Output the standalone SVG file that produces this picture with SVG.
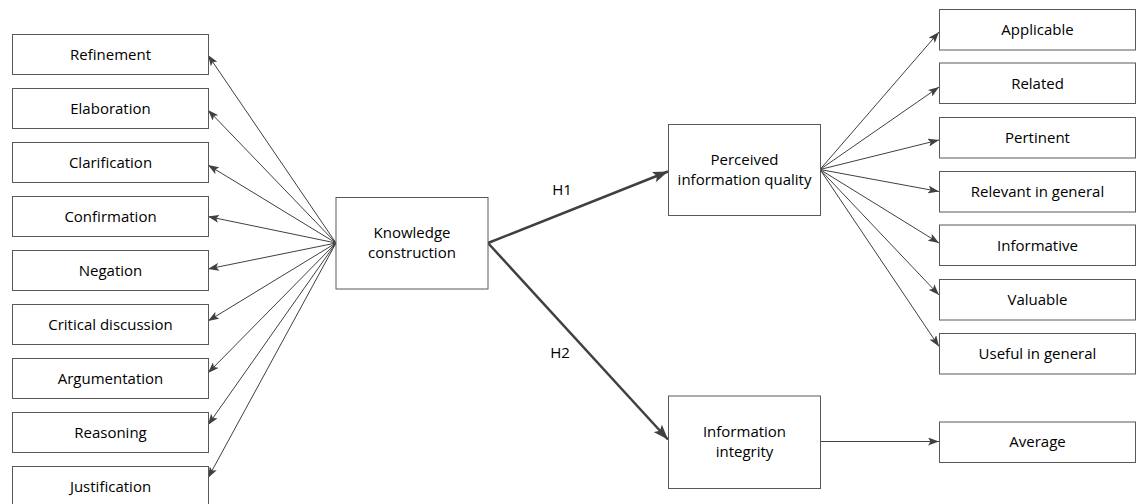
<svg xmlns="http://www.w3.org/2000/svg" width="1136" height="504" viewBox="0 0 1136 504">
  <style>
    .box { fill: #ffffff; stroke: #595959; stroke-width: 1; }
    .lbl { font-family: "Open Sans", "Liberation Sans", sans-serif; font-size: 15px; fill: #000000; text-anchor: middle; }
    .thin { stroke: #404040; stroke-width: 1; fill: none; marker-end: url(#arrowThin); }
    .thick { stroke: #404040; stroke-width: 2.5; fill: none; marker-end: url(#arrowThick); }
  </style>
  <defs>
    <marker id="arrowThin" viewBox="0 0 11 8" markerWidth="11" markerHeight="8" refX="11" refY="4" orient="auto" markerUnits="userSpaceOnUse">
      <path d="M0,0 L11,4 L0,8 L2.5,4 Z" fill="#404040"/>
    </marker>
    <marker id="arrowThick" viewBox="0 0 15 11" markerWidth="15" markerHeight="11" refX="15" refY="5.5" orient="auto" markerUnits="userSpaceOnUse">
      <path d="M0,0 L15,5.5 L0,11 L3,5.5 Z" fill="#404040"/>
    </marker>
  </defs>
  <rect width="1136" height="504" fill="#ffffff"/>

  <!-- connectors -->
  <g id="connectors">
    <!-- Knowledge construction to its indicators -->
    <line class="thin" x1="336" y1="243" x2="208" y2="55"/>
    <line class="thin" x1="336" y1="243" x2="208" y2="110"/>
    <line class="thin" x1="336" y1="243" x2="208" y2="165"/>
    <line class="thin" x1="336" y1="243" x2="208" y2="216.5"/>
    <line class="thin" x1="336" y1="243" x2="208" y2="269"/>
    <line class="thin" x1="336" y1="243" x2="208" y2="321"/>
    <line class="thin" x1="336" y1="243" x2="208" y2="373"/>
    <line class="thin" x1="336" y1="243" x2="208" y2="425"/>
    <line class="thin" x1="336" y1="243" x2="208" y2="478"/>
    <!-- hypotheses -->
    <line class="thick" x1="488" y1="243" x2="668" y2="171.5"/>
    <line class="thick" x1="488" y1="243" x2="668" y2="439.5"/>
    <!-- Perceived information quality to its indicators -->
    <line class="thin" x1="820" y1="169.5" x2="939" y2="32"/>
    <line class="thin" x1="820" y1="169.5" x2="939" y2="87"/>
    <line class="thin" x1="820" y1="169.5" x2="939" y2="140"/>
    <line class="thin" x1="820" y1="169.5" x2="939" y2="191.5"/>
    <line class="thin" x1="820" y1="169.5" x2="939" y2="243"/>
    <line class="thin" x1="820" y1="169.5" x2="939" y2="295"/>
    <line class="thin" x1="820" y1="169.5" x2="939" y2="346.5"/>
    <!-- Information integrity to Average -->
    <line class="thin" x1="820" y1="441.5" x2="939" y2="441.5"/>
    <text class="lbl" x="562" y="195">H1</text>
    <text class="lbl" x="560" y="358">H2</text>
  </g>

  <!-- left column -->
  <g id="refinement"><rect class="box" x="12.5" y="34.5" width="196" height="40"/><text class="lbl" x="110.5" y="59.5">Refinement</text></g>
  <g id="elaboration"><rect class="box" x="12.5" y="88.5" width="196" height="40"/><text class="lbl" x="110.5" y="113.5">Elaboration</text></g>
  <g id="clarification"><rect class="box" x="12.5" y="142.5" width="196" height="40"/><text class="lbl" x="110.5" y="167.5">Clarification</text></g>
  <g id="confirmation"><rect class="box" x="12.5" y="196.5" width="196" height="40"/><text class="lbl" x="110.5" y="221.5">Confirmation</text></g>
  <g id="negation"><rect class="box" x="12.5" y="250.5" width="196" height="40"/><text class="lbl" x="110.5" y="275.5">Negation</text></g>
  <g id="critical-discussion"><rect class="box" x="12.5" y="304.5" width="196" height="40"/><text class="lbl" x="110.5" y="329.5">Critical discussion</text></g>
  <g id="argumentation"><rect class="box" x="12.5" y="358.5" width="196" height="40"/><text class="lbl" x="110.5" y="383.5">Argumentation</text></g>
  <g id="reasoning"><rect class="box" x="12.5" y="412.5" width="196" height="40"/><text class="lbl" x="110.5" y="437.5">Reasoning</text></g>
  <g id="justification"><rect class="box" x="12.5" y="466.5" width="196" height="40"/><text class="lbl" x="110.5" y="491.5">Justification</text></g>

  <!-- central constructs -->
  <g id="knowledge-construction"><rect class="box" x="336" y="197.5" width="152" height="91.5"/><text class="lbl" x="412" y="238">Knowledge</text><text class="lbl" x="412" y="258">construction</text></g>
  <g id="perceived-information-quality"><rect class="box" x="668.5" y="124.5" width="152" height="91"/><text class="lbl" x="744.5" y="164.5">Perceived</text><text class="lbl" x="744.5" y="184.5">information quality</text></g>
  <g id="information-integrity"><rect class="box" x="668.5" y="396" width="152" height="92.5"/><text class="lbl" x="744.5" y="437">Information</text><text class="lbl" x="744.5" y="457">integrity</text></g>

  <!-- right column -->
  <g id="applicable"><rect class="box" x="939.5" y="9.5" width="196" height="40.5"/><text class="lbl" x="1037.5" y="35">Applicable</text></g>
  <g id="related"><rect class="box" x="939.5" y="63" width="196" height="40.5"/><text class="lbl" x="1037.5" y="88.5">Related</text></g>
  <g id="pertinent"><rect class="box" x="939.5" y="117.5" width="196" height="40.5"/><text class="lbl" x="1037.5" y="143">Pertinent</text></g>
  <g id="relevant-in-general"><rect class="box" x="939.5" y="171.5" width="196" height="40.5"/><text class="lbl" x="1037.5" y="197">Relevant in general</text></g>
  <g id="informative"><rect class="box" x="939.5" y="225" width="196" height="40.5"/><text class="lbl" x="1037.5" y="250.5">Informative</text></g>
  <g id="valuable"><rect class="box" x="939.5" y="279.5" width="196" height="40.5"/><text class="lbl" x="1037.5" y="305">Valuable</text></g>
  <g id="useful-in-general"><rect class="box" x="939.5" y="333.5" width="196" height="40.5"/><text class="lbl" x="1037.5" y="359">Useful in general</text></g>
  <g id="average"><rect class="box" x="939.5" y="422" width="196" height="40.5"/><text class="lbl" x="1037.5" y="447">Average</text></g>
</svg>
